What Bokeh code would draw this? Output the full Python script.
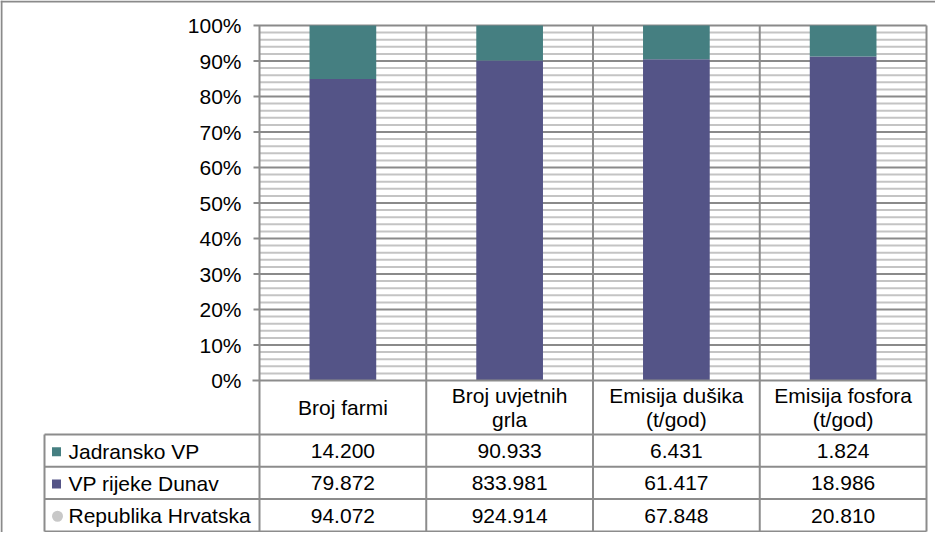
from bokeh.plotting import figure
from bokeh.models import Range1d
from bokeh.core.properties import value
from bokeh.embed import file_html
from bokeh.resources import INLINE

# ---------------- data ----------------
categories = ["Broj farmi", "Broj uvjetnih\ngrla", "Emisija dušika\n(t/god)", "Emisija fosfora\n(t/god)"]
series_names = ["Jadransko VP", "VP rijeke Dunav", "Republika Hrvatska"]
jadransko = [14200, 90933, 6431, 1824]
dunav = [79872, 833981, 61417, 18986]
hrvatska = [94072, 924914, 67848, 20810]
y_ticks = [0.0, 0.1, 0.2, 0.3, 0.4, 0.5, 0.6, 0.7, 0.8, 0.9, 1.0]
y_tick_labels = ["0%", "10%", "20%", "30%", "40%", "50%", "60%", "70%", "80%", "90%", "100%"]

# ---------------- style ----------------
TEAL = "#457f81"
PURPLE = "#545487"
CIRCLE = "#c8c8c8"
GRID_MAJOR = "#8a8a8a"
GRID_MINOR = "#c4c4c4"
LINE = "#8c8c8c"
FONT = value("Liberation Sans")
FSIZE = value("21px")

W, H = 935, 532
OX, OY = 8, 8  # page offset of canvas
PLOT_L, PLOT_R = 267, 934
PLOT_TOP, PLOT_BOT = 33, 388
TABLE_L = 52
HEADER_BOT = 442
ROW_H = 32.3

n = len(categories)
sx = (PLOT_R - PLOT_L) / n
sy = (PLOT_BOT - PLOT_TOP) / 1.0


def X(px):
    return (px - PLOT_L) / sx


def Y(py):
    return (PLOT_BOT - py) / sy


p = figure(width=W, height=H, x_range=Range1d(X(OX), X(OX + W)), y_range=Range1d(Y(OY + H), Y(OY)),
           output_backend="svg", toolbar_location=None, x_axis_type=None, y_axis_type=None,
           min_border=0, outline_line_color=None, background_fill_color="white",
           border_fill_color="white")

# outer frame (top / left)
p.segment(x0=[X(OX + 1)], x1=[X(OX + 1)], y0=[Y(OY)], y1=[Y(OY + H)], line_color=GRID_MAJOR, line_width=2)
p.segment(x0=[X(OX)], x1=[X(OX + W)], y0=[Y(OY + 1)], y1=[Y(OY + 1)], line_color=GRID_MAJOR, line_width=2)

# minor gridlines
minor = [k / 50 for k in range(1, 50) if k % 5 != 0]
p.segment(x0=[0] * len(minor), x1=[n] * len(minor), y0=minor, y1=minor, line_color=GRID_MINOR, line_width=2)
# major gridlines + ticks
maj = y_ticks[1:]
p.segment(x0=[X(261)] * len(maj), x1=[n] * len(maj), y0=maj, y1=maj, line_color=GRID_MAJOR, line_width=2)

# bars (100% stacked)
centers = [i + 0.5 for i in range(n)]
share_d = [d / (j + d) for j, d in zip(jadransko, dunav)]
p.vbar(x=centers, bottom=0, top=share_d, width=0.4, fill_color=PURPLE, line_color=None)
p.vbar(x=centers, bottom=share_d, top=1.0, width=0.4, fill_color=TEAL, line_color=None)

# y tick labels
p.text(x=[X(249)] * len(y_ticks), y=y_ticks, text=y_tick_labels, text_align="right", text_baseline="middle",
       text_font=FONT, text_font_size=FSIZE, text_color="black")

# table geometry
row_tops = [HEADER_BOT + i * ROW_H for i in range(3)]
table_bot = HEADER_BOT + 3 * ROW_H

# 0% line / table top
p.segment(x0=[X(260)], x1=[n], y0=[0], y1=[0], line_color=LINE, line_width=2)
# vertical lines
vx = list(range(n + 1))
p.segment(x0=vx, x1=vx, y0=[1.0] * len(vx), y1=[Y(table_bot)] * len(vx), line_color=LINE, line_width=2)
# horizontal table lines
hy = [Y(HEADER_BOT + i * ROW_H) for i in range(4)]
p.segment(x0=[X(TABLE_L)] * 4, x1=[n] * 4, y0=hy, y1=hy, line_color=LINE, line_width=2)
p.segment(x0=[X(TABLE_L)], x1=[X(TABLE_L)], y0=[Y(HEADER_BOT)], y1=[Y(table_bot)], line_color=LINE, line_width=2)

# header labels
hx, hy_, ht = [], [], []
head_mid = (PLOT_BOT + HEADER_BOT) / 2
for c, lab in zip(centers, categories):
    lines = lab.split("\n")
    k = len(lines)
    for i, ln in enumerate(lines):
        hx.append(c)
        hy_.append(Y(head_mid + (i - (k - 1) / 2) * 24))
        ht.append(ln)
p.text(x=hx, y=hy_, text=ht, text_align="center", text_baseline="middle",
       text_font=FONT, text_font_size=FSIZE, text_color="black")


def fmt(v):
    return f"{v:,}".replace(",", ".")


rows = [jadransko, dunav, hrvatska]
for r, (name, vals) in enumerate(zip(series_names, rows)):
    ymid = Y(row_tops[r] + ROW_H / 2 + 0.5)
    p.text(x=centers, y=[ymid] * n, text=[fmt(v) for v in vals], text_align="center", text_baseline="middle",
           text_font=FONT, text_font_size=FSIZE, text_color="black")
    p.text(x=[X(76)], y=[ymid], text=[name], text_align="left", text_baseline="middle",
           text_font=FONT, text_font_size=FSIZE, text_color="black")

# legend keys
key_y = [Y(row_tops[r] + ROW_H / 2 + 1) for r in range(3)]
p.scatter(x=[X(64)] * 2, y=key_y[:2], marker="square", size=9, fill_color=[TEAL, PURPLE], line_color=None)
p.scatter(x=[X(65)], y=[key_y[2]], marker="circle", size=11, fill_color=CIRCLE, line_color=None)

open("out.html", "w").write(file_html(p, INLINE))
